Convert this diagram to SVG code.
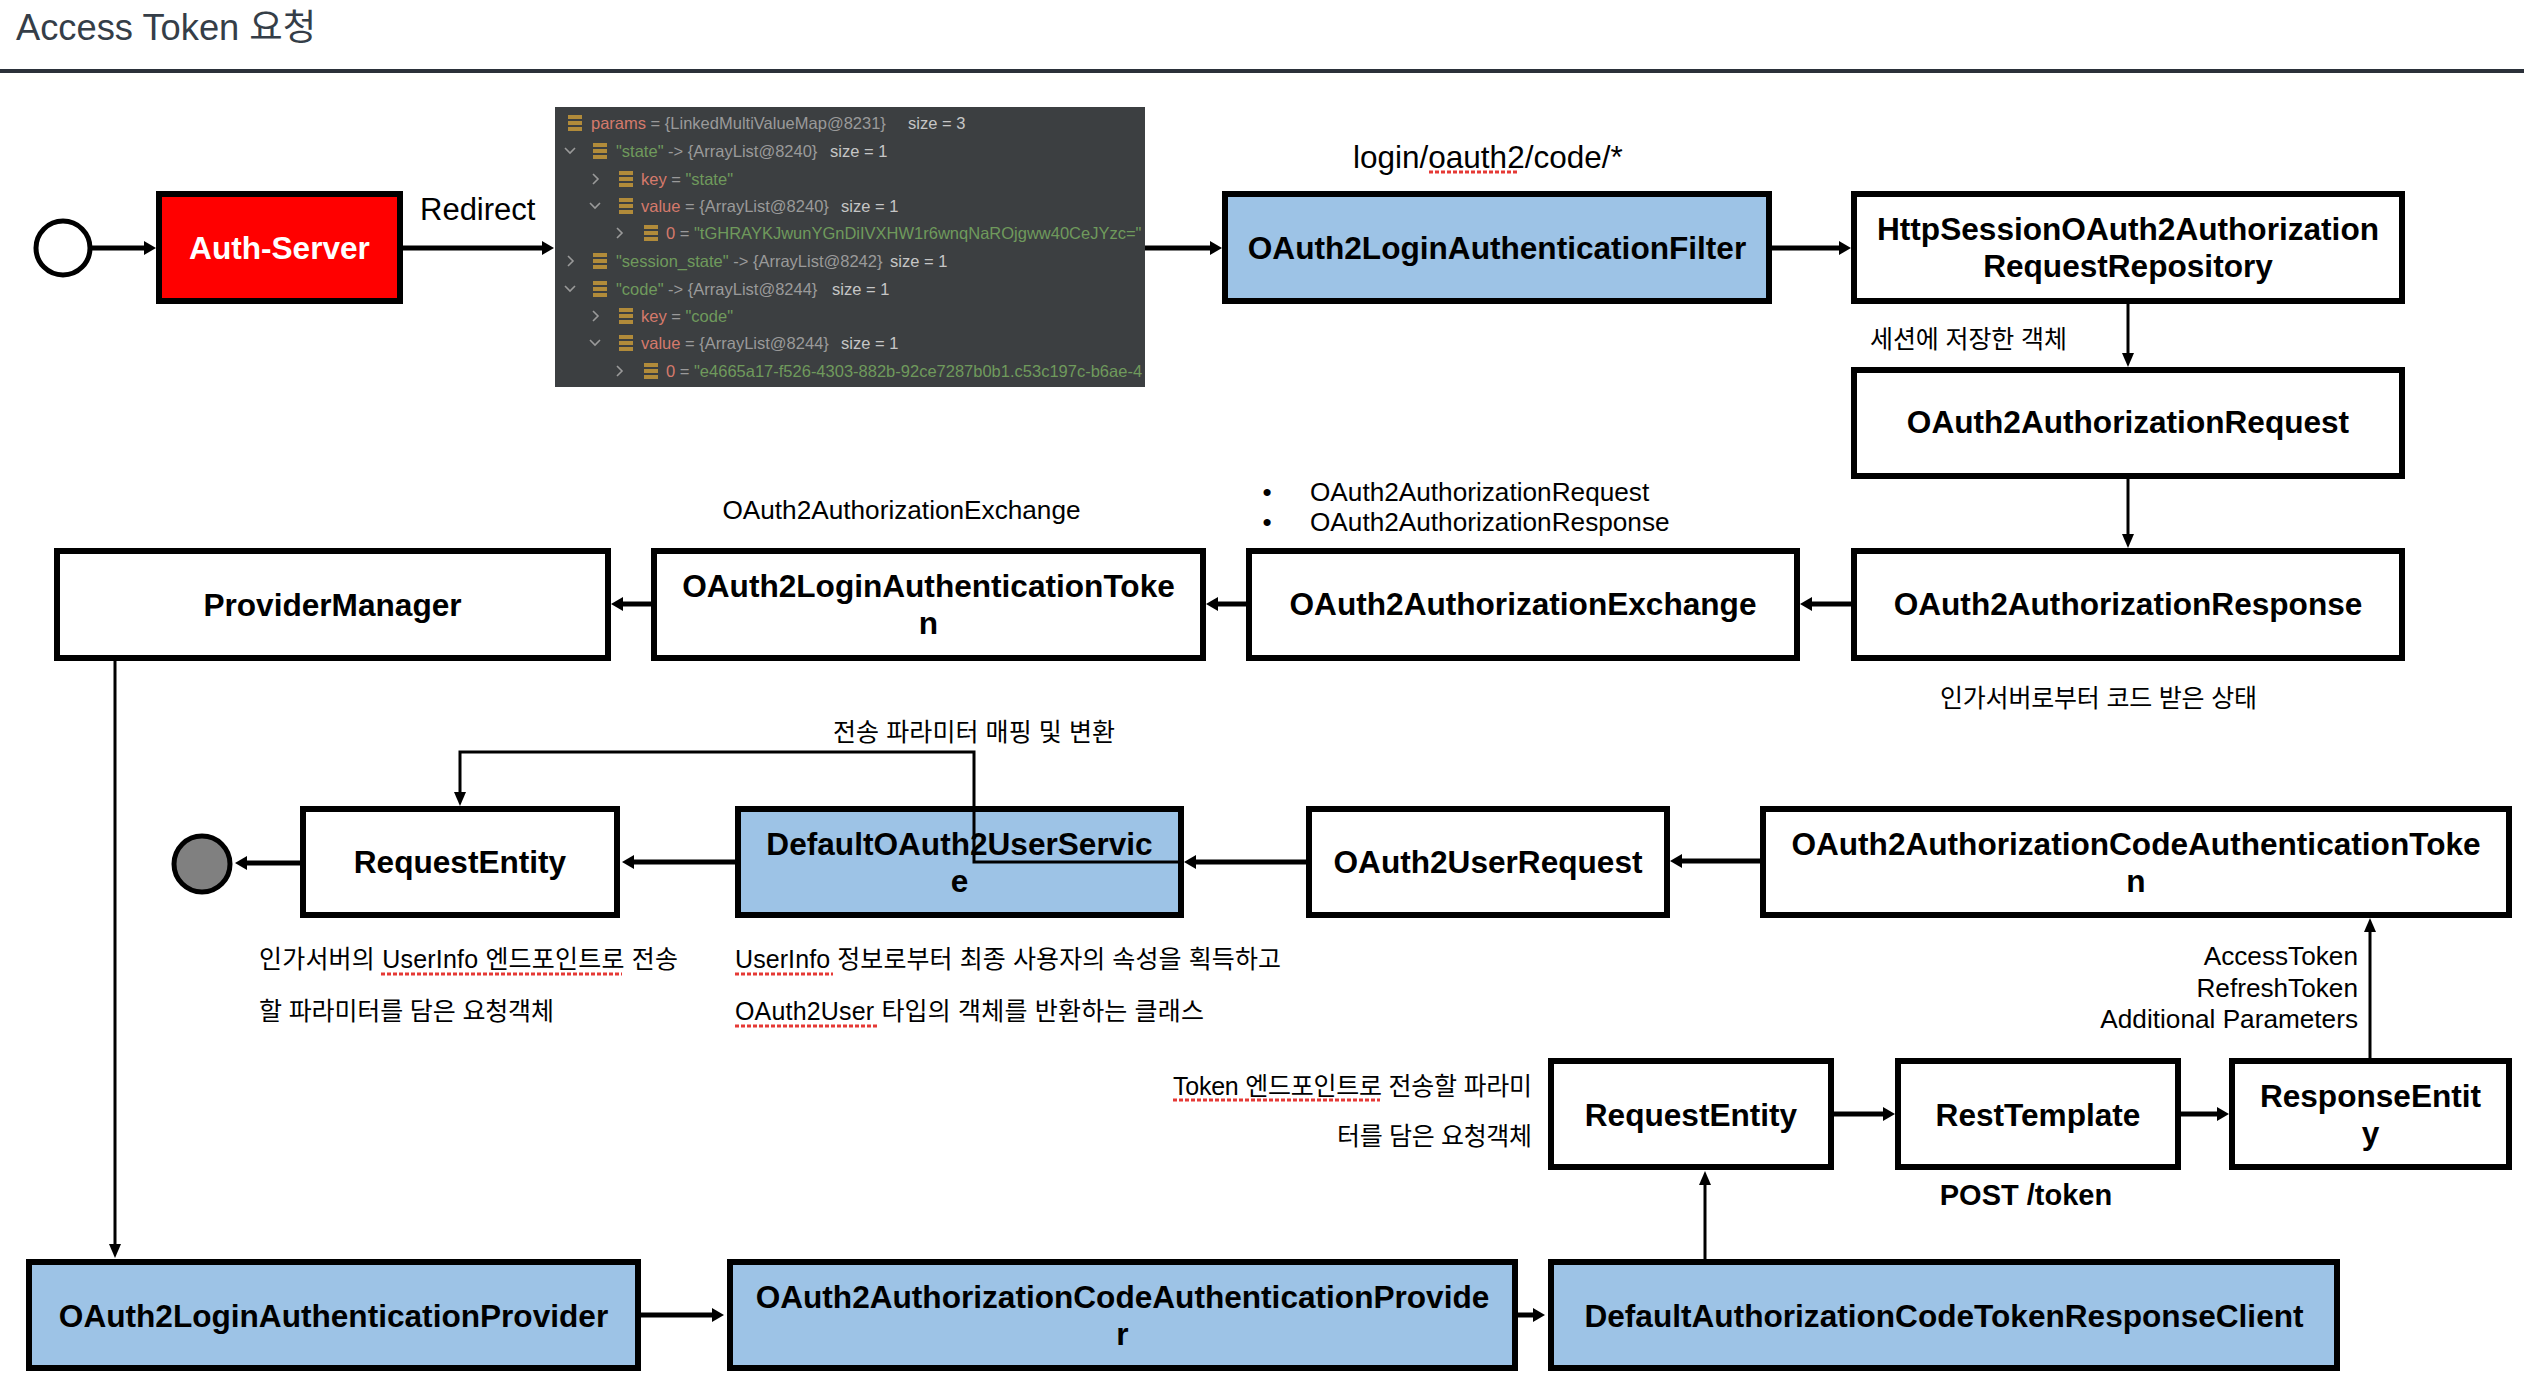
<svg xmlns="http://www.w3.org/2000/svg" width="2524" height="1394" viewBox="0 0 2524 1394">
<style>
.box{stroke:#000;stroke-width:6}
.white{fill:#fff}
.blue{fill:#9dc3e6}
.red{fill:#ff0000}
.nt{font-family:"Liberation Sans",Arial,sans-serif;font-weight:bold;font-size:31.6px;text-anchor:middle;fill:#000}
.lbl{font-family:"Liberation Sans",Arial,"Noto Sans CJK KR",sans-serif;font-size:26.2px;fill:#000}
.kr{font-family:"Liberation Sans",Arial,"Noto Sans CJK KR",sans-serif;font-size:25px;fill:#000}
.conn{stroke:#000;fill:none}
.thick{stroke-width:5;marker-end:url(#ah)}
.thin{stroke-width:3;marker-end:url(#av)}
.sq{stroke:#e53935;stroke-width:3;stroke-dasharray:4 2;fill:none}
.pt{font-family:"Liberation Sans",Arial,sans-serif;font-size:16.5px}
.nm{fill:#d57a6c}
.gr{fill:#9a9a9a}
.st{fill:#6f9a5c}
.sz{fill:#c6c6c6}
.chev{stroke:#9a9a9a;stroke-width:1.6;fill:none}
</style>
<defs>
<marker id="ah" markerUnits="userSpaceOnUse" markerWidth="14" markerHeight="14" refX="4" refY="7" orient="auto"><path d="M0,0 L12,7 L0,14 z" fill="#000"/></marker>
<marker id="av" markerUnits="userSpaceOnUse" markerWidth="14" markerHeight="12" refX="4" refY="6" orient="auto"><path d="M0,0 L14,6 L0,12 z" fill="#000"/></marker>
<g id="ic"><rect x="0" y="-8" width="14" height="4" fill="#b18b3a"/><rect x="0" y="-2" width="14" height="4" fill="#b18b3a"/><rect x="0" y="4" width="14" height="4" fill="#b18b3a"/></g>
<clipPath id="pclip"><rect x="555" y="107" width="590" height="280"/></clipPath>
</defs>
<rect width="2524" height="1394" fill="#fff"/>

<g id="title">
<text x="16" y="40" font-family="'Liberation Sans',Arial,'Noto Sans CJK KR',sans-serif" font-size="36.3" fill="#353e48">Access Token 요청</text>
<rect x="0" y="69" width="2524" height="4" fill="#2b313a"/>
</g>

<g id="start"><circle cx="63" cy="248" r="27" fill="#fff" stroke="#000" stroke-width="5"/></g>

<g id="auth-server"><rect class="box red" x="159" y="194" width="241" height="107"/><text class="nt" x="279.5" y="259" style="fill:#fff">Auth-Server</text></g>

<g id="params-panel">
<rect x="555" y="107" width="590" height="280" fill="#3c3f41"/>
<g clip-path="url(#pclip)">
<use href="#ic" x="568" y="123"/>
<text class="pt" x="591" y="129"><tspan class="nm">params</tspan><tspan class="gr"> = {LinkedMultiValueMap@8231}</tspan><tspan class="sz" x="908">size = 3</tspan></text>
<path class="chev" d="M565,148 L570,153 L575,148"/><use href="#ic" x="593" y="151"/>
<text class="pt" x="616" y="157"><tspan class="st">"state"</tspan><tspan class="gr"> -&gt; {ArrayList@8240}</tspan><tspan class="sz" x="830">size = 1</tspan></text>
<path class="chev" d="M593,174 L598,179 L593,184"/><use href="#ic" x="619" y="179"/>
<text class="pt" x="641" y="185"><tspan class="nm">key</tspan><tspan class="gr"> = </tspan><tspan class="st">"state"</tspan></text>
<path class="chev" d="M590,203 L595,208 L600,203"/><use href="#ic" x="619" y="206"/>
<text class="pt" x="641" y="212"><tspan class="nm">value</tspan><tspan class="gr"> = {ArrayList@8240}</tspan><tspan class="sz" x="841">size = 1</tspan></text>
<path class="chev" d="M617,228 L622,233 L617,238"/><use href="#ic" x="644" y="233"/>
<text class="pt" x="666" y="239"><tspan class="nm">0</tspan><tspan class="gr"> = </tspan><tspan class="st">"tGHRAYKJwunYGnDiIVXHW1r6wnqNaROjgww40CeJYzc="</tspan></text>
<path class="chev" d="M568,256 L573,261 L568,266"/><use href="#ic" x="593" y="261"/>
<text class="pt" x="616" y="267"><tspan class="st">"session_state"</tspan><tspan class="gr"> -&gt; {ArrayList@8242}</tspan><tspan class="sz" x="890">size = 1</tspan></text>
<path class="chev" d="M565,286 L570,291 L575,286"/><use href="#ic" x="593" y="289"/>
<text class="pt" x="616" y="295"><tspan class="st">"code"</tspan><tspan class="gr"> -&gt; {ArrayList@8244}</tspan><tspan class="sz" x="832">size = 1</tspan></text>
<path class="chev" d="M593,311 L598,316 L593,321"/><use href="#ic" x="619" y="316"/>
<text class="pt" x="641" y="322"><tspan class="nm">key</tspan><tspan class="gr"> = </tspan><tspan class="st">"code"</tspan></text>
<path class="chev" d="M590,340 L595,345 L600,340"/><use href="#ic" x="619" y="343"/>
<text class="pt" x="641" y="349"><tspan class="nm">value</tspan><tspan class="gr"> = {ArrayList@8244}</tspan><tspan class="sz" x="841">size = 1</tspan></text>
<path class="chev" d="M617,366 L622,371 L617,376"/><use href="#ic" x="644" y="371"/>
<text class="pt" x="666" y="377"><tspan class="nm">0</tspan><tspan class="gr"> = </tspan><tspan class="st">"e4665a17-f526-4303-882b-92ce7287b0b1.c53c197c-b6ae-4</tspan></text>
</g>
</g>

<g id="filter"><rect class="box blue" x="1225" y="194" width="544" height="107"/><text class="nt" x="1497" y="259">OAuth2LoginAuthenticationFilter</text></g>
<g id="http-session-repo"><rect class="box white" x="1854" y="194" width="548" height="107"/><text class="nt" x="2128" y="240">HttpSessionOAuth2Authorization</text><text class="nt" x="2128" y="277">RequestRepository</text></g>
<g id="auth-request"><rect class="box white" x="1854" y="370" width="548" height="106"/><text class="nt" x="2128" y="433">OAuth2AuthorizationRequest</text></g>
<g id="auth-response"><rect class="box white" x="1854" y="551" width="548" height="107"/><text class="nt" x="2128" y="615">OAuth2AuthorizationResponse</text></g>
<g id="auth-exchange"><rect class="box white" x="1249" y="551" width="548" height="107"/><text class="nt" x="1523" y="615">OAuth2AuthorizationExchange</text></g>
<g id="login-auth-token"><rect class="box white" x="654" y="551" width="549" height="107"/><text class="nt" x="928.5" y="597">OAuth2LoginAuthenticationToke</text><text class="nt" x="928.5" y="634">n</text></g>
<g id="provider-manager"><rect class="box white" x="57" y="551" width="551" height="107"/><text class="nt" x="332.5" y="616">ProviderManager</text></g>
<g id="request-entity-1"><rect class="box white" x="303" y="809" width="314" height="106"/><text class="nt" x="460" y="873">RequestEntity</text></g>
<g id="default-user-service"><rect class="box blue" x="738" y="809" width="443" height="106"/><text class="nt" x="959.5" y="855">DefaultOAuth2UserServic</text><text class="nt" x="959.5" y="892">e</text></g>
<g id="user-request"><rect class="box white" x="1309" y="809" width="358" height="106"/><text class="nt" x="1488" y="873">OAuth2UserRequest</text></g>
<g id="code-auth-token"><rect class="box white" x="1763" y="809" width="746" height="106"/><text class="nt" x="2136" y="855">OAuth2AuthorizationCodeAuthenticationToke</text><text class="nt" x="2136" y="892">n</text></g>
<g id="end"><circle cx="202" cy="864" r="28" fill="#808080" stroke="#000" stroke-width="5"/></g>
<g id="request-entity-2"><rect class="box white" x="1551" y="1061" width="280" height="106"/><text class="nt" x="1691" y="1126">RequestEntity</text></g>
<g id="rest-template"><rect class="box white" x="1898" y="1061" width="280" height="106"/><text class="nt" x="2038" y="1126">RestTemplate</text></g>
<g id="response-entity"><rect class="box white" x="2232" y="1061" width="277" height="106"/><text class="nt" x="2370.5" y="1107">ResponseEntit</text><text class="nt" x="2370.5" y="1144">y</text></g>
<g id="login-auth-provider"><rect class="box blue" x="29" y="1262" width="609" height="106"/><text class="nt" x="333.5" y="1327">OAuth2LoginAuthenticationProvider</text></g>
<g id="code-auth-provider"><rect class="box blue" x="730" y="1262" width="785" height="106"/><text class="nt" x="1122.5" y="1308">OAuth2AuthorizationCodeAuthenticationProvide</text><text class="nt" x="1122.5" y="1345">r</text></g>
<g id="token-response-client"><rect class="box blue" x="1551" y="1262" width="786" height="106"/><text class="nt" x="1944" y="1327">DefaultAuthorizationCodeTokenResponseClient</text></g>

<g id="labels">
<text class="lbl" x="420" y="220" style="font-size:31px">Redirect</text>
<text class="lbl" x="1353" y="168" style="font-size:31.5px">login/oauth2/code/*</text>
<path class="sq" d="M1429,172 H1518"/>
<text class="kr" x="1870" y="348" textLength="197" lengthAdjust="spacing">세션에 저장한 객체</text>
<text class="lbl" x="1267" y="501" text-anchor="middle">•</text>
<text class="lbl" x="1310" y="501">OAuth2AuthorizationRequest</text>
<text class="lbl" x="1267" y="531" text-anchor="middle">•</text>
<text class="lbl" x="1310" y="531">OAuth2AuthorizationResponse</text>
<text class="lbl" x="901.5" y="519" text-anchor="middle">OAuth2AuthorizationExchange</text>
<text class="kr" x="1940" y="707" textLength="317" lengthAdjust="spacing">인가서버로부터 코드 받은 상태</text>
<text class="kr" x="833" y="741" textLength="282" lengthAdjust="spacing">전송 파라미터 매핑 및 변환</text>
<text class="kr" x="259" y="968" textLength="419" lengthAdjust="spacing">인가서버의 UserInfo 엔드포인트로 전송</text>
<path class="sq" d="M381,974 H622"/>
<text class="kr" x="259" y="1020" textLength="295" lengthAdjust="spacing">할 파라미터를 담은 요청객체</text>
<text class="kr" x="735" y="968" textLength="546" lengthAdjust="spacing">UserInfo 정보로부터 최종 사용자의 속성을 획득하고</text>
<path class="sq" d="M735,974 H833"/>
<text class="kr" x="735" y="1020" textLength="469" lengthAdjust="spacing">OAuth2User 타입의 객체를 반환하는 클래스</text>
<path class="sq" d="M735,1026 H877"/>
<text class="lbl" x="2358" y="965" text-anchor="end">AccessToken</text>
<text class="lbl" x="2358" y="997" text-anchor="end">RefreshToken</text>
<text class="lbl" x="2358" y="1028" text-anchor="end">Additional Parameters</text>
<text class="kr" x="1173" y="1095" textLength="359" lengthAdjust="spacing">Token 엔드포인트로 전송할 파라미</text>
<path class="sq" d="M1173,1100 H1380"/>
<text class="kr" x="1337" y="1145" textLength="195" lengthAdjust="spacing">터를 담은 요청객체</text>
<text class="nt" x="2026" y="1205" style="font-size:29px">POST /token</text>
</g>

<g id="connectors">
<path class="conn thick" d="M92,248 H148"/>
<path class="conn thick" d="M403,248 H546"/>
<path class="conn thick" d="M1145,248 H1214"/>
<path class="conn thick" d="M1772,248 H1843"/>
<path class="conn thin" d="M2128,304 V357"/>
<path class="conn thin" d="M2128,479 V538"/>
<path class="conn thick" d="M1851,604 H1808"/>
<path class="conn thick" d="M1246,604 H1214"/>
<path class="conn thick" d="M651,604 H619"/>
<path class="conn thin" d="M115,661 V1248"/>
<path class="conn thick" d="M641,1315 H716"/>
<path class="conn thick" d="M1518,1315 H1537"/>
<path class="conn thin" d="M1705,1259 V1181"/>
<path class="conn thick" d="M1834,1114 H1887"/>
<path class="conn thick" d="M2181,1114 H2221"/>
<path class="conn thin" d="M2370,1058 V928"/>
<path class="conn thick" d="M1760,861 H1678"/>
<path class="conn thick" d="M1306,862 H1192"/>
<path class="conn thick" d="M735,862 H630"/>
<path class="conn thick" d="M300,863 H243"/>
<path class="conn thin" d="M1184,862 H974 V752 H460 V796"/>
</g>
</svg>
